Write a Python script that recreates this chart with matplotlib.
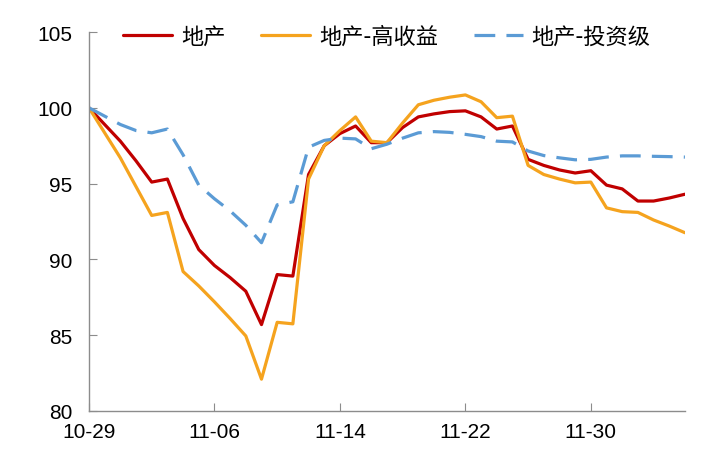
import pandas as pd
import matplotlib
matplotlib.use("Agg")
import matplotlib.pyplot as plt

plt.rcParams['font.family'] = ['Liberation Sans', 'Noto Sans CJK SC', 'DejaVu Sans']

dates = pd.date_range('2021-10-29', '2021-12-06')
tick_dates = ['2021-10-29', '2021-11-06', '2021-11-14', '2021-11-22', '2021-11-30']
tick_labels = ['10-29', '11-06', '11-14', '11-22', '11-30']

property_all = [100, 98.9, 97.8, 96.5, 95.1, 95.3, 92.7, 90.65, 89.6, 88.8,
                87.9, 85.7, 89.0, 88.9, 95.6, 97.5, 98.3, 98.8, 97.7, 97.7,
                98.7, 99.4, 99.6, 99.75, 99.8, 99.4, 98.6, 98.8, 96.6, 96.2,
                95.9, 95.7, 95.85, 94.9, 94.65, 93.85, 93.85, 94.05, 94.3]
high_yield = [100, 98.35, 96.7, 94.8, 92.9, 93.1, 89.2, 88.25, 87.2, 86.1,
              84.95, 82.1, 85.85, 85.75, 95.3, 97.5, 98.5, 99.4, 97.8, 97.7,
              99.0, 100.2, 100.5, 100.7, 100.85, 100.4, 99.35, 99.45, 96.2, 95.6,
              95.3, 95.05, 95.1, 93.4, 93.15, 93.1, 92.6, 92.2, 91.76]
inv_grade = [100, 99.45, 98.9, 98.5, 98.35, 98.6, 96.9, 94.9, 94.0, 93.2,
             92.25, 91.1, 93.6, 93.8, 97.4, 97.85, 98.0, 97.95, 97.3, 97.6,
             98.0, 98.35, 98.43, 98.38, 98.25, 98.1, 97.8, 97.75, 97.15, 96.85,
             96.7, 96.57, 96.6, 96.75, 96.83, 96.83, 96.8, 96.78, 96.75]

fig = plt.figure(figsize=(7.21, 4.56), dpi=100)
ax = fig.add_axes([0.1234, 0.0965, 0.8266, 0.8311])

ax.plot(dates, property_all, color='#C00000', lw=2.3, label='地产',
        solid_joinstyle='round', solid_capstyle='round')
ax.plot(dates, high_yield, color='#F5A31E', lw=2.3, label='地产-高收益',
        solid_joinstyle='round', solid_capstyle='round')
ax.plot(dates, inv_grade, color='#5B9BD5', lw=2.3, dashes=(6.5, 3.5), label='地产-投资级',
        dash_joinstyle='round')

ax.set_xlim(dates[0], dates[-1])
ax.set_ylim(80, 105)
ax.set_yticks([80, 85, 90, 95, 100, 105])
ax.set_xticks(pd.to_datetime(tick_dates))
ax.set_xticklabels(tick_labels)

for s in ['top', 'right']:
    ax.spines[s].set_visible(False)
for s in ['left', 'bottom']:
    ax.spines[s].set_color('#8c8c8c')
    ax.spines[s].set_linewidth(1)
ax.tick_params(axis='both', direction='in', length=6, color='#8c8c8c', labelsize=15)
ax.tick_params(axis='x', pad=8)
ax.tick_params(axis='y', pad=12)

leg = ax.legend(loc='center', bbox_to_anchor=(0.5, 0.99), ncol=3, frameon=False,
                prop={'family': ['Noto Sans CJK SC', 'DejaVu Sans'], 'size': 16},
                handlelength=2.2, columnspacing=1.6, handletextpad=0.4)

fig.savefig('out.png', dpi=100)
